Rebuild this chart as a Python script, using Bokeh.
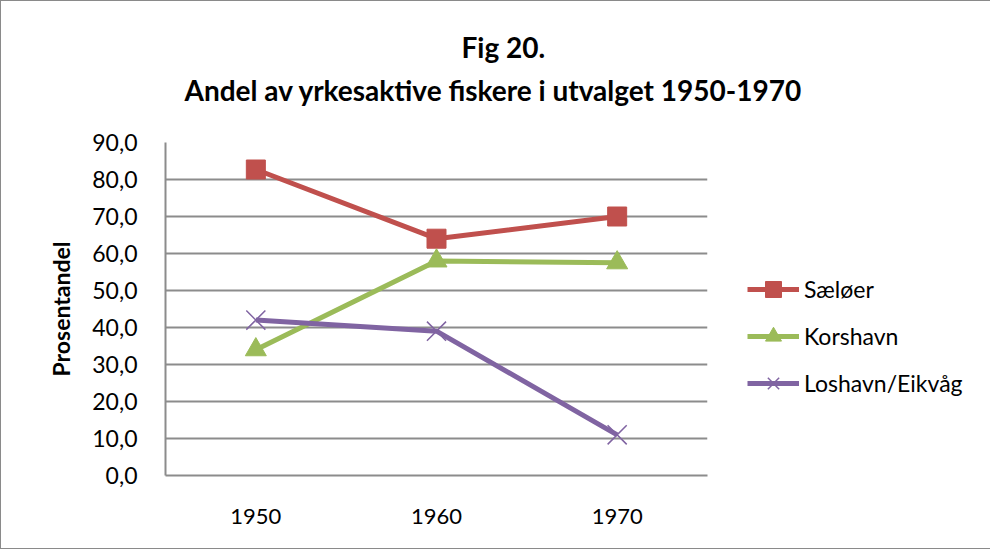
from bokeh.plotting import figure
from bokeh.models import (Title, Legend, LegendItem, SingleIntervalTicker,
                          CustomJSTickFormatter, Range1d, FactorRange)
from bokeh.embed import file_html
from bokeh.resources import INLINE

years = ["1950", "1960", "1970"]
saeloer = [82.7, 64.0, 70.0]
korshavn = [34.0, 58.0, 57.5]
loshavn = [42.0, 39.0, 11.0]

title_line1 = "Fig 20."
title_line2 = "Andel av yrkesaktive fiskere i utvalget 1950-1970"
y_label = "Prosentandel"

FONT = "Lato"

p = figure(x_range=FactorRange(*years), y_range=Range1d(0, 90),
           width=974, height=547, output_backend="svg", toolbar_location=None,
           min_border_left=164, min_border_right=268, min_border_top=141,
           min_border_bottom=73)
p.frame_width = 542
p.frame_height = 333

p.outline_line_color = None
p.background_fill_color = "white"
p.border_fill_color = "white"
p.styles = {"border": "1px solid #8a8a8a"}

grid_col = "#8c8c8c"
p.xgrid.grid_line_color = None
p.ygrid.grid_line_color = grid_col
p.ygrid.grid_line_width = 2
p.yaxis.ticker = SingleIntervalTicker(interval=10)
p.yaxis.formatter = CustomJSTickFormatter(code="return tick.toFixed(1).replace('.', ',');")
p.yaxis.axis_line_color = grid_col
p.yaxis.axis_line_width = 2
p.yaxis.major_tick_line_color = None
p.yaxis.major_tick_out = 0
p.yaxis.major_tick_in = 0
p.yaxis.minor_tick_line_color = None
p.yaxis.major_label_text_font = FONT
p.yaxis.major_label_text_font_size = "23px"
p.yaxis.major_label_text_color = "black"
p.yaxis.major_label_standoff = 24
p.yaxis.axis_label = y_label
p.yaxis.axis_label_text_font = FONT
p.yaxis.axis_label_text_font_style = "bold"
p.yaxis.axis_label_text_font_size = "23px"
p.yaxis.axis_label_text_color = "black"
p.yaxis.axis_label_standoff = 14

p.xaxis.axis_line_color = grid_col
p.xaxis.axis_line_width = 2
p.xaxis.major_tick_line_color = None
p.xaxis.major_tick_out = 0
p.xaxis.major_tick_in = 0
p.xaxis.major_label_text_font = FONT
p.xaxis.major_label_text_font_size = "22px"
p.xaxis.major_label_text_color = "black"
p.xaxis.major_label_standoff = 33

red, green, purple = "#C0504D", "#9BBB59", "#8064A2"

l1 = p.line(years, saeloer, line_color=red, line_width=5)
m1 = p.scatter(years, saeloer, marker="square", size=19, fill_color=red, line_color=red)
l2 = p.line(years, korshavn, line_color=green, line_width=5)
m2 = p.scatter(years, korshavn, marker="triangle", size=21, fill_color=green, line_color=green)
l3 = p.line(years, loshavn, line_color=purple, line_width=5)
m3 = p.scatter(years, loshavn, marker="x", size=27, line_color=purple, line_width=1.5)

legend = Legend(items=[
    LegendItem(label="Sæløer", renderers=[l1, m1]),
    LegendItem(label="Korshavn", renderers=[l2, m2]),
    LegendItem(label="Loshavn/Eikvåg", renderers=[l3, m3]),
], location=(40, 72), glyph_width=52, glyph_height=40, spacing=7,
   label_text_font=FONT, label_text_font_size="23px", label_standoff=5,
   label_text_color="black",
   border_line_color=None, background_fill_alpha=0, padding=0, margin=0)
p.add_layout(legend, "right")

spacer = Title(text=" ", text_font=FONT, text_font_size="10px", standoff=20)
t2 = Title(text=title_line2, align="left", offset=19, standoff=4,
           text_font=FONT, text_font_style="bold", text_font_size="28px",
           text_color="black")
t1 = Title(text=title_line1, align="left", offset=296, standoff=9,
           text_font=FONT, text_font_style="bold", text_font_size="28px",
           text_color="black")
p.add_layout(spacer, "above")
p.add_layout(t2, "above")
p.add_layout(t1, "above")

open("out.html", "w").write(file_html(p, INLINE))
